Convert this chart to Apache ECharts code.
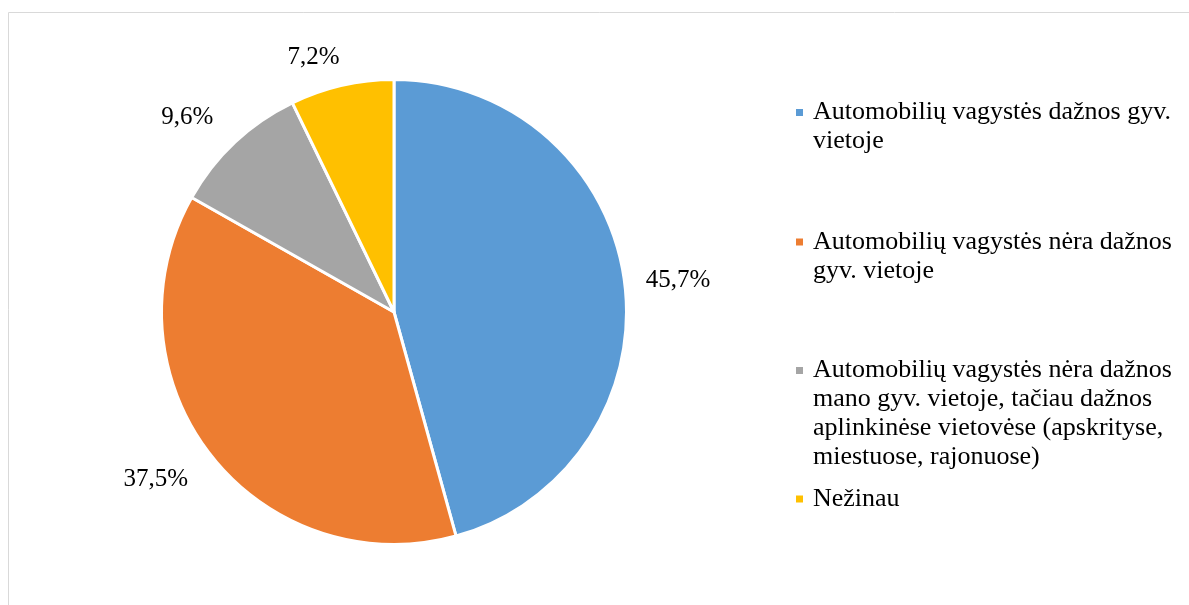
<!DOCTYPE html>
<html>
<head>
<meta charset="utf-8">
<script src="https://cdn.jsdelivr.net/npm/echarts@6/dist/echarts.min.js"></script>
<style>html,body{margin:0;padding:0;background:#fff;}#c{width:1189px;height:605px;}</style>
</head>
<body>
<div id="c"></div>
<script>
const categories = [
  'Automobilių vagystės dažnos gyv. vietoje',
  'Automobilių vagystės nėra dažnos gyv. vietoje',
  'Automobilių vagystės nėra dažnos mano gyv. vietoje, tačiau dažnos aplinkinėse vietovėse (apskrityse, miestuose, rajonuose)',
  'Nežinau'
];
const legendLines = [
  ['Automobilių vagystės dažnos gyv.', 'vietoje'],
  ['Automobilių vagystės nėra dažnos', 'gyv. vietoje'],
  ['Automobilių vagystės nėra dažnos', 'mano gyv. vietoje, tačiau dažnos', 'aplinkinėse vietovėse (apskrityse,', 'miestuose, rajonuose)'],
  ['Nežinau']
];
const values = [45.7, 37.5, 9.6, 7.2];
const colors = ['#5B9BD5', '#ED7D31', '#A5A5A5', '#FFC000'];

const FONT = "'Liberation Serif', 'Times New Roman', serif";
const LH = 29;
// label line tuning (style)
const labelLen = [1.5, 39, 34.3, 28.5];
const labelLen2 = [15, -13, -7, -9];
const legendTop = [69, 198.5, 269, 484.5];

const chart = echarts.init(document.getElementById('c'), null, {renderer: 'canvas'});

const legends = categories.map((name, i) => {
  const n = legendLines[i].length;
  const pad = [];
  for (let k = 1; k < n; k++) pad.push(' ');
  return {
    data: [name],
    orient: 'vertical',
    left: 794,
    top: legendTop[i],
    padding: 0,
    itemWidth: 9,
    itemHeight: 9,
    icon: 'rect',
    selectedMode: false,
    formatter: () => pad.concat(legendLines[i]).join('\n'),
    textStyle: {
      fontFamily: FONT,
      fontSize: 26,
      color: '#000',
      lineHeight: LH,
      padding: [0, 0, 0, 4]
    }
  };
});

chart.setOption({
  animation: false,
  color: colors,
  graphic: [{
    type: 'rect',
    shape: {x: 8.5, y: 12.5, width: 1300, height: 800},
    style: {fill: 'none', stroke: '#d9d9d9', lineWidth: 1},
    silent: true,
    z: -1
  }],
  legend: legends,
  series: [{
    type: 'pie',
    center: [394, 312],
    radius: 232.5,
    startAngle: 90,
    clockwise: true,
    avoidLabelOverlap: false,
    emphasis: {disabled: true},
    itemStyle: {borderColor: '#fff', borderWidth: 3},
    label: {
      show: true,
      position: 'outside',
      fontFamily: FONT,
      fontSize: 25,
      color: '#000',
      distanceToLabelLine: 5,
      formatter: p => p.value.toFixed(1).replace('.', ',') + '%'
    },
    labelLine: {show: false},
    data: categories.map((name, i) => ({
      name: name,
      value: values[i],
      labelLine: {show: false, length: labelLen[i], length2: labelLen2[i]}
    }))
  }]
});
</script>
</body>
</html>
